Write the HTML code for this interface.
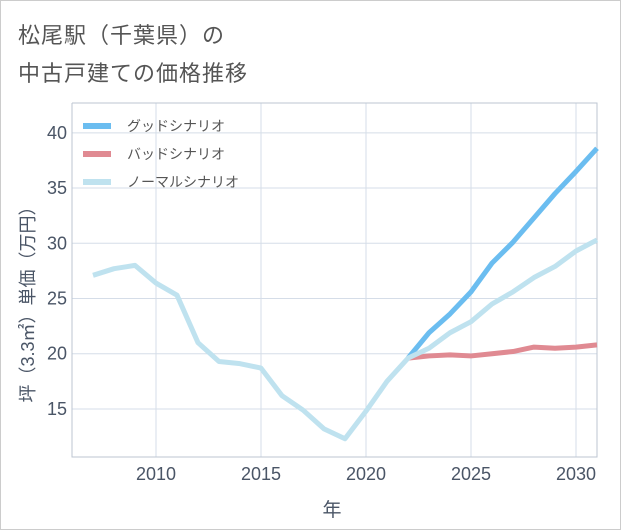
<!DOCTYPE html>
<html><head><meta charset="utf-8">
<style>
body{margin:0;background:#fff;}
#wrap{position:relative;width:619px;height:528px;border:1px solid #ccc;background:#fff;overflow:hidden;}
.title{position:absolute;left:17px;font:22px "Liberation Sans","Noto Sans CJK JP",sans-serif;color:#555;letter-spacing:1px;}
svg text{font-family:"Liberation Sans","Noto Sans CJK JP",sans-serif;}
</style></head><body>
<div id="wrap">
<div class="title" style="top:17px">松尾駅（千葉県）の</div>
<div class="title" style="top:55px">中古戸建ての価格推移</div>
<svg id="chart" width="621" height="530" style="position:absolute;left:-1px;top:-1px"></svg>
</div>
<script>
const years=[2007,2008,2009,2010,2011,2012,2013,2014,2015,2016,2017,2018,2019,2020,2021,2022,2023,2024,2025,2026,2027,2028,2029,2030,2031];
const normal=[27.1,27.7,28.0,26.4,25.3,21.0,19.3,19.1,18.7,16.2,14.9,13.2,12.3,14.8,17.5,19.6,20.5,21.9,22.9,24.5,25.6,26.9,27.9,29.3,30.3];
const goodYears=[2022,2023,2024,2025,2026,2027,2028,2029,2030,2031];
const good=[19.6,21.9,23.6,25.6,28.2,30.1,32.3,34.5,36.5,38.6];
const bad=[19.6,19.8,19.9,19.8,20.0,20.2,20.6,20.5,20.6,20.8];
const xTicks=[2010,2015,2020,2025,2030];
const yTicks=[15,20,25,30,35,40];
const X0=72,X1=597,Y0=103,Y1=457,xmin=2006,xmax=2031,ymin=10.65,ymax=42.7;
const sx=v=>X0+(v-xmin)/(xmax-xmin)*(X1-X0);
const sy=v=>Y1-(v-ymin)/(ymax-ymin)*(Y1-Y0);
const svg=document.getElementById('chart');
const NS='http://www.w3.org/2000/svg';
function mk(t,a){const e=document.createElementNS(NS,t);for(const k in a)e.setAttribute(k,a[k]);svg.appendChild(e);return e;}
xTicks.forEach(t=>{
 const l=mk('line',{x1:sx(t),x2:sx(t),y1:Y0,y2:Y1,stroke:'#d5dde8','stroke-width':1});
 
 
 const tx=mk('text',{x:sx(t),y:480,'text-anchor':'middle','font-size':18,fill:'#4a5566'});
 tx.textContent=t;
 
 
});
yTicks.forEach(t=>{
 const l=mk('line',{x1:X0,x2:X1,y1:sy(t),y2:sy(t),stroke:'#d5dde8','stroke-width':1});
 
 
 const tx=mk('text',{x:67,y:sy(t)+6,'text-anchor':'end','font-size':18,fill:'#4a5566'});
 tx.textContent=t;
 
 
});
const ax=mk('path',{d:`M${X0},${Y0}V${Y1}H${X1}V${Y0}H${X0}`,fill:'none',stroke:'#bcc6d2','stroke-width':1});


function line(xs,ys,color,name){
 const p=mk('polyline',{points:xs.map((x,i)=>sx(x)+','+sy(ys[i])).join(' '),fill:'none',stroke:color,'stroke-width':5,'stroke-linejoin':'round'});
 
 
}
line(goodYears,bad,'#e08a92','bad-scenario-line');
line(goodYears,good,'#6bbdf0','good-scenario-line');
line(years,normal,'#bfe2ef','normal-scenario-line');
const leg=[['グッドシナリオ','#6bbdf0',126],['バッドシナリオ','#e08a92',154],['ノーマルシナリオ','#bfe2ef',182]];
leg.forEach((g,i)=>{
 const l=mk('line',{x1:83,x2:111,y1:g[2],y2:g[2],stroke:g[1],'stroke-width':6});
 
 
 const t=mk('text',{x:127,y:g[2]+5,'font-size':14,fill:'#555'});
 t.textContent=g[0];
 
 
});
const xt=mk('text',{x:332,y:516,'text-anchor':'middle','font-size':19,fill:'#4a5566'});
xt.textContent='年';


const yt=mk('text',{x:0,y:0,'text-anchor':'middle','font-size':18,fill:'#4a5566',transform:'translate(34,300) rotate(-90)'});
yt.textContent='坪（3.3㎡）単価（万円）';


</script>
</body></html>
